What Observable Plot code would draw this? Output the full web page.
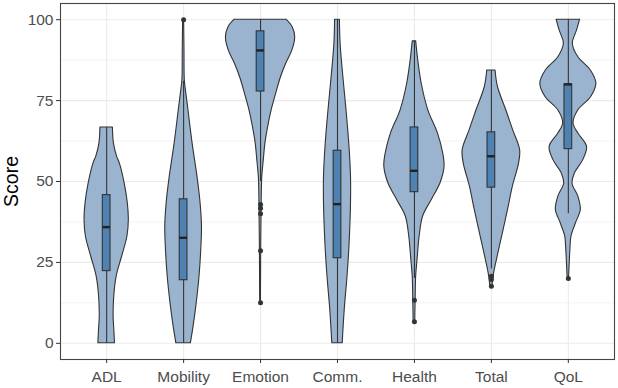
<!DOCTYPE html>
<html>
<head>
<meta charset="utf-8">
<script src="https://cdn.jsdelivr.net/npm/d3@7"></script>
<script src="https://cdn.jsdelivr.net/npm/@observablehq/plot@0.6"></script>
<style>
  html, body { margin: 0; padding: 0; background: #fff; }
  #chart { width: 618px; height: 388px; }
</style>
</head>
<body>
<div id="chart"></div>
<script>
// Categories
const categories = ["ADL", "Mobility", "Emotion", "Comm.", "Health", "Total", "QoL"];

// Violin density profiles (score level, relative density; 1 = widest violin)
const violinADL = [[0,0.24],[4.3,0.22],[8.4,0.20],[14.6,0.22],[20.7,0.29],[26.9,0.45],[33,0.60],[38.2,0.64],[43.3,0.61],[49.4,0.52],[55.6,0.38],[57.7,0.30],[61.7,0.21],[66.7,0.18]];
const violinMobility = [[0,0.21],[5.3,0.29],[12.5,0.38],[20.7,0.46],[28.9,0.51],[36.1,0.53],[43.3,0.49],[51.5,0.40],[61.7,0.26],[72,0.14],[77.1,0.08],[81.2,0.035],[90,0.025],[100,0.015]];
const violinEmotion = [[12.5,0.011],[20,0.014],[31,0.02],[41.2,0.03],[45.3,0.034],[51.5,0.05],[56.6,0.094],[61.7,0.14],[66.9,0.22],[72,0.32],[77.1,0.45],[82.2,0.59],[86.4,0.74],[90.5,0.92],[94.6,1.0],[97.6,0.93],[100,0.75]];
const violinComm = [[0,0.15],[10.5,0.21],[20.7,0.29],[31,0.35],[43.3,0.39],[51.5,0.39],[61.7,0.34],[72,0.26],[82.2,0.17],[92.5,0.09],[100,0.07]];
const violinHealth = [[6.7,0.023],[13.5,0.034],[20.7,0.05],[25.8,0.09],[33,0.15],[39.2,0.25],[44.3,0.50],[49.4,0.75],[54.6,0.87],[58.7,0.83],[64.8,0.68],[72,0.40],[80.2,0.21],[87.4,0.11],[93.3,0.05]];
const violinTotal = [[17.6,0.03],[21.7,0.08],[25.8,0.16],[33,0.31],[41.2,0.48],[48.4,0.62],[55.6,0.80],[59.7,0.83],[65.8,0.63],[72,0.43],[79.2,0.19],[84.3,0.12]];
const violinQoL = [[20.2,0.02],[24.8,0.04],[28.9,0.06],[33,0.09],[37.1,0.22],[41.2,0.36],[45.3,0.29],[49.4,0.12],[52.5,0.19],[56.6,0.43],[60.7,0.54],[64.8,0.29],[67.9,0.15],[72,0.29],[76.1,0.66],[80.2,0.81],[84.3,0.65],[88.4,0.29],[92.5,0.13],[96.6,0.25],[100,0.34]];
const violins = [violinADL, violinMobility, violinEmotion, violinComm, violinHealth, violinTotal, violinQoL];

// Box statistics
const whiskerLow  = [0,    0,    50,   0,    20,   23,   40];
const q1          = [22.3, 19.5, 77.8, 26.3, 46.7, 48.1, 60];
const median      = [35.9, 32.6, 90.5, 43.0, 53.3, 57.8, 80];
const q3          = [45.8, 44.5, 96.4, 59.5, 66.7, 65.2, 80];
const whiskerHigh = [66.7, 81,   100,  100,  93.3, 84.3, 100];

// Outliers per category
const outliers = [[], [100], [42.9, 41.7, 40.0, 28.6, 12.5], [], [13.3, 6.7], [20.7, 19.7, 17.6], [20]];

// Axis ticks
const yTicks = [0, 25, 50, 75, 100];
const yMinor = [12.5, 37.5, 62.5, 87.5];

const VIOLIN_HALF = 0.45;
const BOX_HALF = 0.05;

const violinRows = violins.flatMap((v, i) => v.map(([y, w]) => ({i, y, w})));
const boxRows = categories.map((c, i) => ({i, lo: whiskerLow[i], q1: q1[i], med: median[i], q3: q3[i], hi: whiskerHigh[i]}));
const outlierRows = outliers.flatMap((o, i) => o.map(y => ({i, y})));

const font = "'Liberation Sans', Arial, Helvetica, sans-serif";

const chart = Plot.plot({
  width: 618,
  height: 388,
  marginLeft: 60,
  marginRight: 4,
  marginTop: 3,
  marginBottom: 29,
  style: {fontFamily: font, background: "#fff", overflow: "visible"},
  x: {type: "linear", domain: [-0.6, 6.6], axis: null},
  y: {domain: [-5, 105], axis: null},
  marks: [
    Plot.gridY(yMinor, {stroke: "#ebebeb", strokeOpacity: 1, strokeWidth: 0.6}),
    Plot.gridY(yTicks, {stroke: "#ebebeb", strokeOpacity: 1, strokeWidth: 1.1}),
    Plot.gridX(d3.range(categories.length), {stroke: "#ebebeb", strokeOpacity: 1, strokeWidth: 1.1}),
    Plot.areaX(violinRows, {
      y: "y",
      x1: d => d.i - VIOLIN_HALF * d.w,
      x2: d => d.i + VIOLIN_HALF * d.w,
      z: "i",
      curve: "catmull-rom",
      fill: "#9ab4d0",
      stroke: "#333333",
      strokeWidth: 1.1
    }),
    Plot.ruleX(boxRows, {x: "i", y1: "lo", y2: "hi", stroke: "#333333", strokeWidth: 1.1}),
    Plot.rect(boxRows, {
      x1: d => d.i - BOX_HALF, x2: d => d.i + BOX_HALF,
      y1: "q1", y2: "q3",
      fill: "#4d82b3", stroke: "#333333", strokeWidth: 1.1
    }),
    Plot.ruleY(boxRows, {
      y: "med", x1: d => d.i - BOX_HALF, x2: d => d.i + BOX_HALF,
      stroke: "#222222", strokeWidth: 2.4
    }),
    Plot.dot(outlierRows, {x: "i", y: "y", r: 2.5, fill: "#333333", stroke: "none"}),
    Plot.frame({stroke: "#444444", strokeWidth: 1.1}),
    Plot.axisY(yTicks, {
      tickSize: 4, tickPadding: 3, fontSize: 15.5,
      fill: "#4d4d4d", stroke: "#333333", label: null
    }),
    Plot.axisX(d3.range(categories.length), {
      tickFormat: i => categories[i],
      tickSize: 4, tickPadding: 7, fontSize: 15.5,
      fill: "#4d4d4d", stroke: "#333333", label: null
    }),
    Plot.text(["Score"], {
      frameAnchor: "left", rotate: -90, dx: -49,
      lineAnchor: "middle", textAnchor: "middle",
      fontSize: 19.5, fill: "#000"
    })
  ]
});
document.getElementById("chart").appendChild(chart);
</script>
</body>
</html>
